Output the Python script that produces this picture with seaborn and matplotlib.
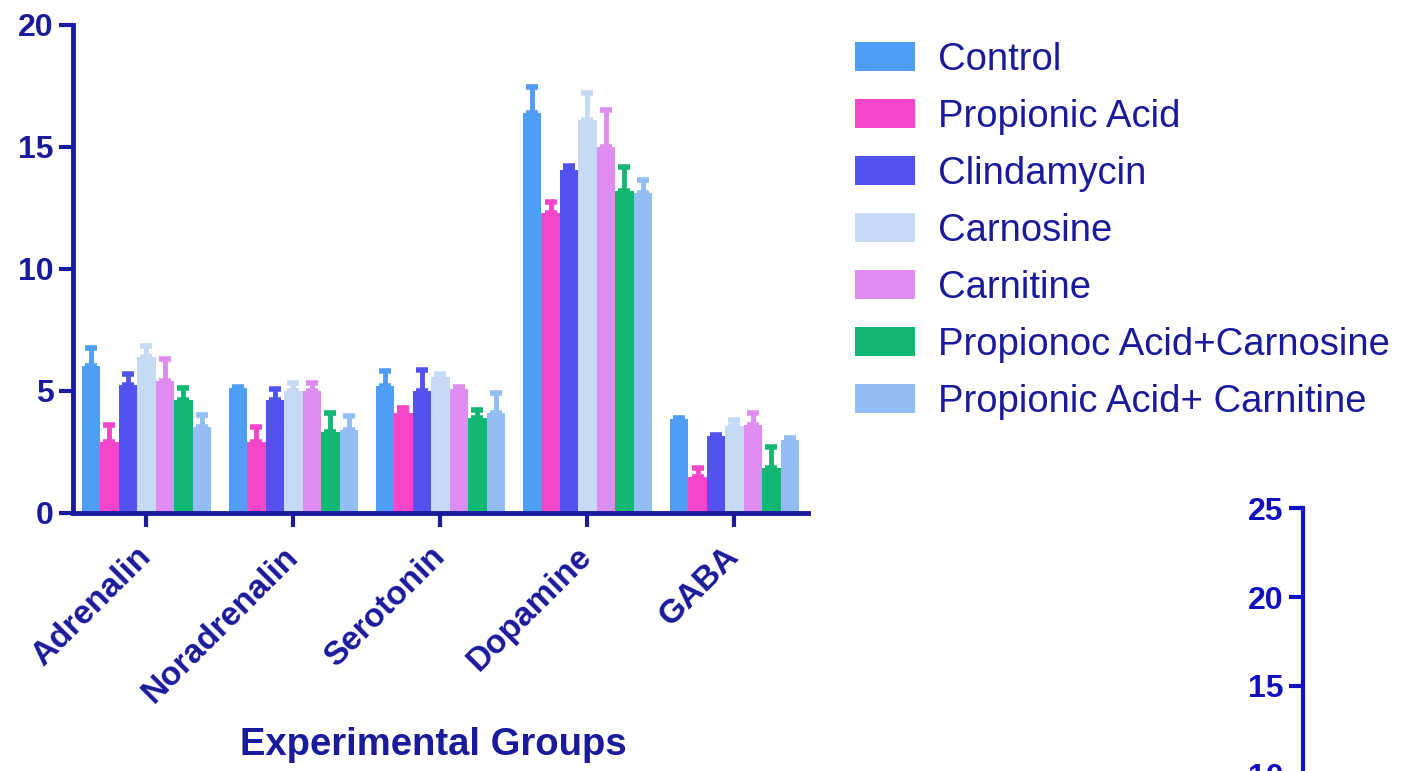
import numpy as np
import pandas as pd
import matplotlib
matplotlib.use("Agg")
import matplotlib.pyplot as plt
import seaborn as sns

# ------------------------------
# data
# ------------------------------
groups = ["Adrenalin", "Noradrenalin", "Serotonin", "Dopamine", "GABA"]
treatments = ["Control", "Propionic Acid", "Clindamycin", "Carnosine", "Carnitine",
              "Propionoc Acid+Carnosine", "Propionic Acid+ Carnitine"]

# mean values, one list per treatment (in group order)
control = [6.0, 5.1, 5.2, 16.4, 3.85]
propionic = [2.9, 2.9, 4.1, 12.3, 1.45]
clindamycin = [5.25, 4.6, 5.0, 14.05, 3.15]
carnosine = [6.4, 5.0, 5.55, 16.1, 3.55]
carnitine = [5.4, 5.0, 5.05, 15.0, 3.6]
prop_carnosine = [4.6, 3.3, 3.9, 13.2, 1.85]
prop_carnitine = [3.5, 3.4, 4.1, 13.1, 3.0]

# upper error (SD) per treatment
err_control = [0.75, 0.05, 0.6, 1.05, 0.05]
err_propionic = [0.7, 0.6, 0.2, 0.45, 0.4]
err_clindamycin = [0.45, 0.45, 0.85, 0.15, 0.05]
err_carnosine = [0.45, 0.3, 0.15, 1.1, 0.25]
err_carnitine = [0.9, 0.3, 0.1, 1.5, 0.5]
err_prop_carnosine = [0.5, 0.8, 0.3, 0.95, 0.85]
err_prop_carnitine = [0.5, 0.55, 0.8, 0.55, 0.05]

colors = ["#4f9df5", "#f545c8", "#5252ef", "#c6daf5", "#de8cf0", "#12b872", "#92bef5"]

means = [control, propionic, clindamycin, carnosine, carnitine, prop_carnosine, prop_carnitine]
errs = [err_control, err_propionic, err_clindamycin, err_carnosine, err_carnitine,
        err_prop_carnosine, err_prop_carnitine]

rows = []
for t, vals in zip(treatments, means):
    for g, v in zip(groups, vals):
        rows.append({"group": g, "treatment": t, "value": v})
df = pd.DataFrame(rows)

# ------------------------------
# plot
# ------------------------------
sns.set_style("ticks")
plt.rcParams["font.family"] = ["Liberation Sans", "DejaVu Sans"]
navy = "#1a1a9c"

fig = plt.figure(figsize=(14.19, 7.71), dpi=100)
ax = fig.add_axes([0.0514, 0.335, 0.518, 0.633])

sns.barplot(data=df, x="group", y="value", hue="treatment", order=groups,
            hue_order=treatments, palette=colors, width=0.88, gap=0,
            errorbar=None, saturation=1, linewidth=0, ax=ax)

# upper-only error bars in the bar colour
for cont, col, e in zip(ax.containers, colors, errs):
    xs = [b.get_x() + b.get_width() / 2 for b in cont]
    ys = [b.get_height() for b in cont]
    ax.errorbar(xs, ys, yerr=[np.zeros(len(e)), e], fmt="none", ecolor=col,
                elinewidth=3.5, capsize=4.5, capthick=4)

ax.set_xlim(-0.5, 4.5)
ax.set_ylim(0, 20)
ax.set_yticks([0, 5, 10, 15, 20])
sns.despine(ax=ax)
for s in ["left", "bottom"]:
    ax.spines[s].set_color(navy)
    ax.spines[s].set_linewidth(3.5)
ax.tick_params(colors=navy, width=3, length=10, labelsize=23, pad=4)
ax.tick_params(axis="x", labelsize=24, pad=18)
for lab in ax.get_xticklabels() + ax.get_yticklabels():
    lab.set_fontweight("bold")
    lab.set_color(navy)
plt.setp(ax.get_xticklabels(), rotation=45, ha="right", va="center", rotation_mode="anchor")
ax.set_ylabel("")
ax.set_xlabel("Experimental Groups", fontsize=27.5, fontweight="bold", color=navy)
ax.xaxis.set_label_coords(0.491, -0.475)
ax.xaxis.label.set_va("center")

handles, labels = ax.get_legend_handles_labels()
ax.get_legend().remove()
leg = fig.legend(handles, labels, loc="upper left", bbox_to_anchor=(0.578, 0.99),
                 frameon=False, fontsize=27.5, handlelength=1.57, handleheight=0.79,
                 handletextpad=0.62, labelspacing=0.55)
for txt in leg.get_texts():
    txt.set_color(navy)

# fragment of the neighbouring panel's axis at lower right
ax2 = fig.add_axes([0.918, -0.005, 0.05, 0.346])
ax2.set_ylim(10, 25)
ax2.set_yticks([10, 15, 20, 25])
ax2.set_xticks([])
ax2.patch.set_alpha(0)
for s in ["top", "right", "bottom"]:
    ax2.spines[s].set_visible(False)
ax2.spines["left"].set_color("#1010d0")
ax2.spines["left"].set_linewidth(3)
ax2.tick_params(axis="y", colors="#1010c0", width=3, length=10, labelsize=23, pad=4)
for lab in ax2.get_yticklabels():
    lab.set_fontweight("bold")

fig.savefig("out.png", dpi=100)
